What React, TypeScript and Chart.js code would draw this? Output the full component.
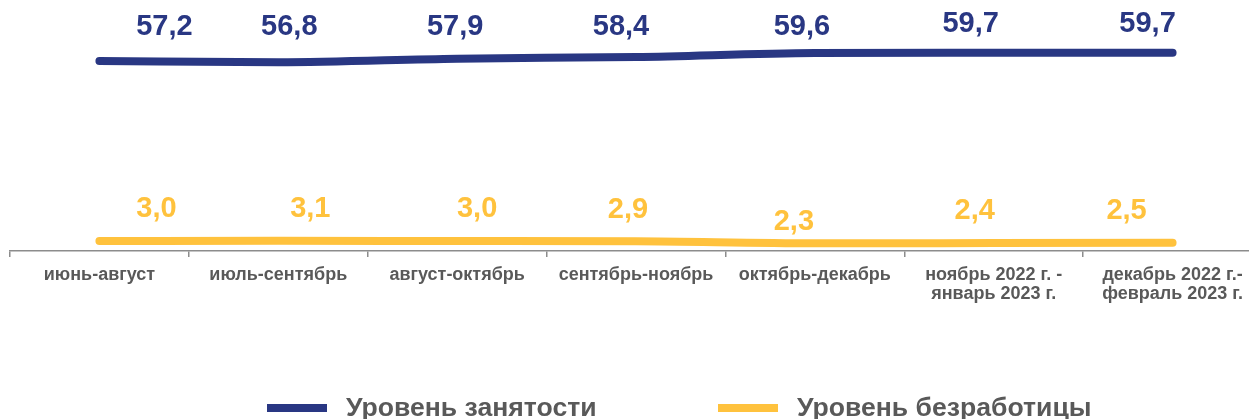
import React, { useEffect, useRef } from "react";
import { Chart, registerables } from "chart.js";

Chart.register(...registerables);

const categories: (string | string[])[] = [
  "июнь-август",
  "июль-сентябрь",
  "август-октябрь",
  "сентябрь-ноябрь",
  "октябрь-декабрь",
  ["ноябрь 2022 г. -", "январь 2023 г."],
  ["декабрь 2022 г.-", "февраль 2023 г."],
];

const employment = [57.2, 56.8, 57.9, 58.4, 59.6, 59.7, 59.7];
const unemployment = [3.0, 3.1, 3.0, 2.9, 2.3, 2.4, 2.5];

const seriesNames = ["Уровень занятости", "Уровень безработицы"];
const BLUE = "#293783";
const YELLOW = "#FFC23D";
const TEXT = "#595959";
const FONT = "'Liberation Sans', Arial, sans-serif";

const W = 1264;
const H = 419;
const AXIS_Y = 251;

// manual data-label nudges (as placed in the original chart), per series
const LABEL_NUDGE_X = [
  [65, 11, -2, -15, -13, -23, -25],
  [57, 32, 20, -8, -21, -19, -46],
];
const LABEL_NUDGE_Y = [
  [-26, -27, -24, -22, -18, -21, -21],
  [-24, -24, -24, -23, -13, -24, -24],
];

const labelPlugin = {
  id: "valueLabels",
  afterDatasetsDraw(chart: any) {
    const ctx = chart.ctx;
    ctx.save();
    chart.data.datasets.forEach((ds: any, i: number) => {
      const meta = chart.getDatasetMeta(i);
      ctx.fillStyle = ds.borderColor;
      ctx.font = `bold 29px ${FONT}`;
      ctx.textAlign = "center";
      ctx.textBaseline = "alphabetic";
      meta.data.forEach((pt: any, j: number) => {
        const v = ds.data[j] as number;
        ctx.fillText(
          v.toFixed(1).replace(".", ","),
          pt.x + LABEL_NUDGE_X[i][j],
          pt.y + LABEL_NUDGE_Y[i][j]
        );
      });
    });
    ctx.restore();
  },
};

export default function App() {
  const ref = useRef<HTMLCanvasElement | null>(null);

  useEffect(() => {
    if (!ref.current) return;
    const chart = new Chart(ref.current, {
      type: "line",
      data: {
        labels: categories,
        datasets: [
          {
            label: seriesNames[0],
            data: employment,
            borderColor: BLUE,
            backgroundColor: BLUE,
            borderWidth: 8,
            borderCapStyle: "round",
            pointRadius: 0,
            cubicInterpolationMode: "monotone",
            clip: false,
          },
          {
            label: seriesNames[1],
            data: unemployment,
            borderColor: YELLOW,
            backgroundColor: YELLOW,
            borderWidth: 8,
            borderCapStyle: "round",
            pointRadius: 0,
            cubicInterpolationMode: "monotone",
            clip: false,
          },
        ],
      },
      options: {
        responsive: false,
        animation: false,
        devicePixelRatio: 1,
        layout: { padding: { left: 10, right: 2, top: 0, bottom: 0 } },
        plugins: {
          legend: { display: false },
          tooltip: { enabled: false },
        },
        scales: {
          y: { display: false, min: 0, max: 75.56 },
          x: {
            offset: true,
            grid: {
              offset: true,
              drawOnChartArea: false,
              drawTicks: true,
              tickLength: 6,
              color: "#8c8c8c",
              lineWidth: 1.5,
            },
            border: { display: true, color: "#8c8c8c", width: 1.5 },
            ticks: {
              color: TEXT,
              font: { family: FONT, size: 18, weight: "bold", lineHeight: 1.05 },
              padding: 9,
              maxRotation: 0,
              autoSkip: false,
            },
            afterFit: (scale: any) => {
              scale.height = H - AXIS_Y;
            },
          },
        },
      },
      plugins: [labelPlugin],
    } as any);
    return () => chart.destroy();
  }, []);

  const legendItem = (color: string, text: string, left: number) => (
    <>
      <div
        style={{
          position: "absolute",
          left,
          top: 404,
          width: 60,
          height: 8,
          background: color,
        }}
      />
      <span
        style={{
          position: "absolute",
          left: left + 79,
          top: 392,
          fontFamily: FONT,
          fontWeight: "bold",
          fontSize: 26.6,
          lineHeight: "31px",
          color: TEXT,
          whiteSpace: "nowrap",
        }}
      >
        {text}
      </span>
    </>
  );

  return (
    <div
      style={{
        position: "absolute",
        left: 0,
        top: 0,
        width: 1249,
        height: 419,
        overflow: "hidden",
        background: "#fff",
      }}
    >
      <canvas ref={ref} width={W} height={H} style={{ width: W, height: H, display: "block" }} />
      {legendItem(BLUE, seriesNames[0], 267)}
      {legendItem(YELLOW, seriesNames[1], 718)}
    </div>
  );
}
